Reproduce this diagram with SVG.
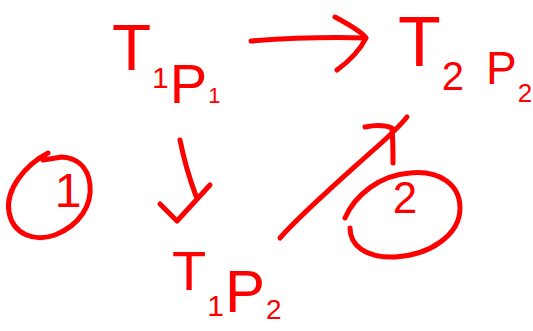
<svg xmlns="http://www.w3.org/2000/svg" width="533" height="331" viewBox="0 0 533 331">
<style>
.s{fill:none;stroke:#ff0000;stroke-width:5;stroke-linecap:round;stroke-linejoin:round}
.t{fill:#ff0000;font-family:"Liberation Sans","DejaVu Sans",sans-serif}
</style>
<rect width="533" height="331" fill="#ffffff"/>
<g id="state-T1P1">
<text class="t" x="112" y="70" font-size="64">T<tspan dx="1" dy="18" font-size="30">1</tspan><tspan dx="1" dy="15" font-size="56">P</tspan><tspan dx="1" font-size="22">1</tspan></text>
</g>
<g id="state-T2P2">
<text class="t" x="398" y="66" font-size="70">T<tspan dx="1" dy="24" font-size="40">2</tspan><tspan dx="22" dy="-6" font-size="46">P</tspan><tspan dx="1" dy="18" font-size="26">2</tspan></text>
</g>
<g id="state-T1P2">
<text class="t" x="172" y="290" font-size="56">T<tspan dx="1" dy="26" font-size="30">1</tspan><tspan dx="1" dy="-4" font-size="60">P</tspan><tspan dx="1" dy="7" font-size="28">2</tspan></text>
</g>
<g id="label-1">
<path class="s" d="M48,153 C25,165 5,190 9,212 C13,235 35,242 55,235 C80,225 92,205 90,185 C88,165 75,158 62,157 L43,160"/>
<text class="t" x="68" y="207" font-size="48" text-anchor="middle">1</text>
</g>
<g id="label-2">
<path class="s" d="M345,218 C355,195 380,175 410,173 C440,170 460,185 460,208 C460,235 430,255 395,257 C365,258 350,245 350,228"/>
<text class="t" x="405" y="213" font-size="44" text-anchor="middle">2</text>
</g>
<g id="connectors">
<path class="s" d="M251,41 C290,38 330,37 366,38"/>
<path class="s" d="M335,17 C350,25 362,32 366,38 C360,50 348,62 337,70"/>
<path class="s" d="M180,140 C184,160 190,180 196,196"/>
<path class="s" d="M160,204 L177,221 L210,185"/>
<path class="s" d="M280,238 C300,215 340,180 370,153 C385,140 398,128 407,117"/>
<path class="s" d="M365,127 C375,125 385,125 392,128 C393,140 393,152 393,163"/>
</g>
</svg>
